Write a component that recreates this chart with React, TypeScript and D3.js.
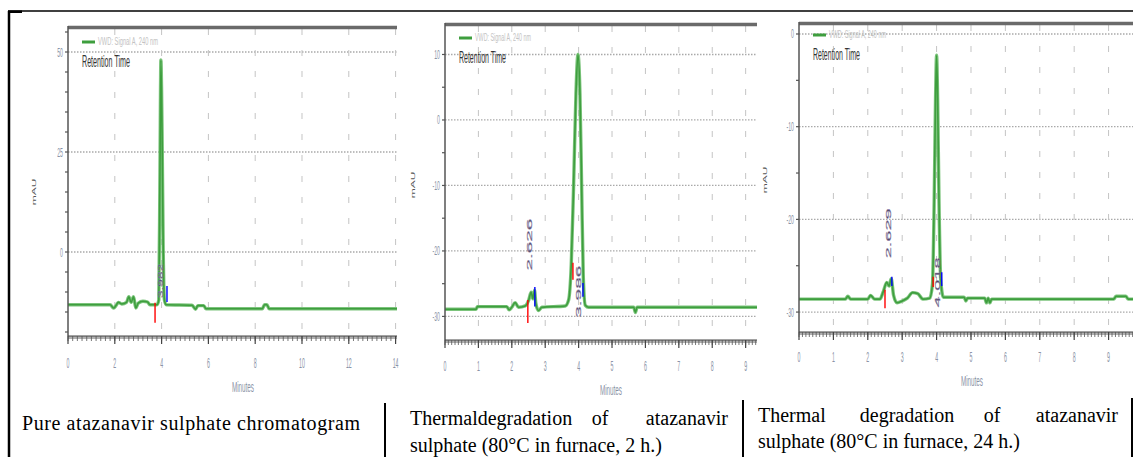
import React from "react";
import * as d3 from "d3";

// ---------- DATA ----------
// chromatogram traces: [minutes, mAU]
const pureTrace: [number, number][] = [
  [0, -13.2], [1.8, -13.2], [1.95, -14.0], [2.05, -13.4], [2.15, -12.6], [2.3, -13.0], [2.5, -12.6],
  [2.6, -11.2], [2.7, -12.6], [2.8, -11.2], [2.9, -14.0], [3.0, -12.8], [3.2, -12.3], [3.4, -12.5],
  [3.5, -13.2], [3.8, -13.2], [3.88, -12.0], [3.93, 20], [3.97, 48], [4.02, 30], [4.07, 0],
  [4.12, -12], [4.2, -13.2], [5.3, -13.3], [5.45, -14.3], [5.55, -13.4], [5.8, -13.4], [5.9, -14.2],
  [8.3, -14.2], [8.4, -13.2], [8.5, -13.2], [8.6, -14.2], [14.1, -14.2],
];
const thermal2hTrace: [number, number][] = [
  [0, -28.9], [0.93, -28.9], [0.97, -28.5], [1.85, -28.5], [1.92, -29.0], [2.0, -28.6], [2.1, -27.9],
  [2.2, -28.6], [2.4, -28.4], [2.5, -27.6], [2.58, -26.3], [2.63, -27.3], [2.68, -26.0], [2.72, -28.0],
  [2.8, -29.1], [2.9, -28.6], [3.6, -28.4], [3.7, -27.5], [3.78, -22], [3.85, -10], [3.92, 4],
  [3.98, 10], [4.04, 4], [4.09, -10], [4.14, -24], [4.2, -28.3], [4.3, -28.6], [5.65, -28.6],
  [5.7, -29.4], [5.75, -28.6], [9.4, -28.6],
];
const thermal24hTrace: [number, number][] = [
  [0, -28.6], [1.35, -28.6], [1.42, -28.3], [1.5, -28.6], [2.0, -28.6], [2.08, -28.2], [2.2, -28.6],
  [2.35, -28.6], [2.45, -27.8], [2.55, -26.8], [2.62, -27.2], [2.68, -26.4], [2.75, -28.2],
  [2.85, -29.0], [3.0, -28.8], [3.15, -28.5], [3.3, -27.9], [3.45, -28.0], [3.6, -28.6], [3.8, -28.5],
  [3.88, -27], [3.93, -18], [3.97, -7], [4.0, -2.3], [4.03, -7], [4.07, -18], [4.12, -26.5],
  [4.2, -28.4], [4.8, -28.4], [4.85, -28.8], [4.9, -28.5], [5.4, -28.5], [5.45, -29], [5.5, -28.5],
  [5.55, -29], [5.6, -28.6], [9.15, -28.6], [9.22, -28.3], [9.5, -28.3], [9.57, -28.6], [9.8, -28.6],
];

const pureXTicks = [0, 2, 4, 6, 8, 10, 12, 14];
const thermal2hXTicks = [0, 1, 2, 3, 4, 5, 6, 7, 8, 9];
const thermal24hXTicks = [0, 1, 2, 3, 4, 5, 6, 7, 8, 9];
const pureYTicks = [0, 25, 50];
const thermal2hYTicks = [-30, -20, -10, 0, 10];
const thermal24hYTicks = [-30, -20, -10, 0];

// peak retention-time labels: [minutes, mAU at label start, text, label length]
const purePeakLabels: [number, number, string, number][] = [[3.95, -11.5, "3.982", 34]];
const thermal2hPeakLabels: [number, number, string, number][] = [
  [2.52, -23.0, "2.626", 52],
  [3.98, -30.2, "3.986", 52],
];
const thermal24hPeakLabels: [number, number, string, number][] = [
  [2.6, -24.2, "2.629", 50],
  [4.0, -29.5, "4.018", 50],
];

// integration markers: [minutes, mAU from, mAU to, colour]
const pureMarkers: [number, number, number, string][] = [
  [3.72, -12.7, -17.7, "red"],
  [4.23, -8.5, -12.5, "blue"],
];
const thermal2hMarkers: [number, number, number, string][] = [
  [2.48, -27.5, -31.0, "red"],
  [2.69, -25.5, -28.5, "blue"],
  [3.83, -21.8, -24.4, "red"],
  [4.13, -24.9, -27.0, "blue"],
];
const thermal24hMarkers: [number, number, number, string][] = [
  [2.5, -27.6, -29.6, "red"],
  [2.7, -26.2, -27.2, "blue"],
  [3.9, -26.2, -27.3, "red"],
  [4.15, -25.7, -27.2, "blue"],
];

const legendLabel = "VWD: Signal A, 240 nm";
const legendTitle = "Retention Time";
const yTitle = "mAU";
const xTitle = "Minutes";

// ---------- LAYOUT ----------
type Panel = {
  trace: [number, number][];
  xTicks: number[];
  yTicks: number[];
  labels: [number, number, string, number][];
  markers: [number, number, number, string][];
  left: number; right: number; top: number; bottom: number;
  xDomain: [number, number]; yDomain: [number, number];
  xMinor: number; yMinor: number;
  legendY: number; legendW: number; titleW: number;
  yTitleX: number; yTitleY: number;
  xTitleX: number; xTitleY: number; xLabelDy: number;
};

const panels: Panel[] = [
  {
    trace: pureTrace, xTicks: pureXTicks, yTicks: pureYTicks, labels: purePeakLabels, markers: pureMarkers,
    left: 68, right: 397, top: 29, bottom: 336, xDomain: [0, 14.06], yDomain: [-21, 55.75],
    xMinor: 0.2, yMinor: 5, legendY: 42, legendW: 60, titleW: 48,
    yTitleX: 36, yTitleY: 192, xTitleX: 243, xTitleY: 392, xLabelDy: 32,
  },
  {
    trace: thermal2hTrace, xTicks: thermal2hXTicks, yTicks: thermal2hYTicks, labels: thermal2hPeakLabels, markers: thermal2hMarkers,
    left: 445, right: 757, top: 26, bottom: 340, xDomain: [0, 9.34], yDomain: [-33.6, 14.35],
    xMinor: 0.1, yMinor: 5, legendY: 38, legendW: 56, titleW: 47,
    yTitleX: 415, yTitleY: 185, xTitleX: 611, xTitleY: 395, xLabelDy: 31,
  },
  {
    trace: thermal24hTrace, xTicks: thermal24hXTicks, yTicks: thermal24hYTicks, labels: thermal24hPeakLabels, markers: thermal24hMarkers,
    left: 799, right: 1133, top: 25, bottom: 332, xDomain: [0, 9.71], yDomain: [-32.15, 0.97],
    xMinor: 0.1, yMinor: 5, legendY: 35, legendW: 57, titleW: 47,
    yTitleX: 767, yTitleY: 180, xTitleX: 972, xTitleY: 386, xLabelDy: 30,
  },
];

const GREEN = "#3e9e3e";
const LABEL = "#8a93a6";

function ChartPanel({ p }: { p: Panel }) {
  const x = d3.scaleLinear().domain(p.xDomain).range([p.left, p.right]);
  const y = d3.scaleLinear().domain(p.yDomain).range([p.bottom, p.top]);
  const line = d3.line<[number, number]>().x((d) => x(d[0])).y((d) => y(d[1])).curve(d3.curveMonotoneX);
  const xMinorTicks = d3.range(p.xDomain[0], p.xDomain[1] + 1e-9, p.xMinor);
  const yMinorTicks = d3.range(Math.ceil(p.yDomain[0] / p.yMinor) * p.yMinor, p.yDomain[1], p.yMinor);
  const clipId = `clip-${p.left}`;
  return (
    <g>
      <defs>
        <clipPath id={clipId}>
          <rect x={p.left} y={p.top} width={p.right - p.left} height={p.bottom - p.top} />
        </clipPath>
      </defs>
      {/* grid */}
      {p.yTicks.map((t) => (
        <line key={`gy${t}`} x1={p.left} x2={p.right} y1={y(t)} y2={y(t)} stroke="#a9a9a9" strokeWidth={1.3} strokeDasharray="1.5,1.5" />
      ))}
      {p.xTicks.filter((t) => t > 0).map((t) => (
        <line key={`gx${t}`} x1={x(t)} x2={x(t)} y1={p.top} y2={p.bottom} stroke="#c4c4c4" strokeWidth={1} strokeDasharray="6,15" />
      ))}
      {/* legend */}
      <line x1={p.left + 14} x2={p.left + 27} y1={p.legendY} y2={p.legendY} stroke={GREEN} strokeWidth={3} />
      <text x={p.left + 30} y={p.legendY + 3} fontSize={10} fill="#c2c2c2" fontFamily="Liberation Sans, Arial" textLength={p.legendW} lengthAdjust="spacingAndGlyphs">{legendLabel}</text>
      <text x={p.left + 14} y={p.legendY + 25} fontSize={17} fill="#333" fontFamily="Liberation Sans, Arial" textLength={p.titleW} lengthAdjust="spacingAndGlyphs">{legendTitle}</text>
      {/* trace */}
      <g clipPath={`url(#${clipId})`}>
        <path d={line(p.trace) || ""} fill="none" stroke="#7cc47c" strokeWidth={3.4} strokeLinejoin="round" />
        <path d={line(p.trace) || ""} fill="none" stroke={GREEN} strokeWidth={1.6} strokeLinejoin="round" />
      </g>
      {/* markers */}
      {p.markers.map((m, i) => (
        <line key={`m${i}`} x1={x(m[0])} x2={x(m[0])} y1={y(m[1])} y2={y(m[2])} stroke={m[3]} strokeWidth={1.4} />
      ))}
      {/* peak labels */}
      {p.labels.map((l, i) => (
        <text key={`l${i}`} transform={`translate(${x(l[0]) + 3},${y(l[1])}) scale(0.55,1) rotate(-90)`} fontSize={13} fill="#4e4862" stroke="#9b8fb8" strokeWidth={0.4} fontFamily="Liberation Sans, Arial" textLength={l[3]} lengthAdjust="spacingAndGlyphs">{l[2]}</text>
      ))}
      {/* top frame */}
      <line x1={p.left} x2={p.right} y1={p.top - 1.5} y2={p.top - 1.5} stroke="#6a6a6a" strokeWidth={3.5} />
      {/* left axis */}
      <line x1={p.left} x2={p.left} y1={p.top - 3} y2={p.bottom} stroke="#555" strokeWidth={1.5} />
      {yMinorTicks.map((t) => (
        <line key={`ym${t}`} x1={p.left - 3} x2={p.left} y1={y(t)} y2={y(t)} stroke="#555" strokeWidth={1.2} />
      ))}
      {p.yTicks.map((t) => (
        <text key={`yl${t}`} transform={`translate(${p.left - 5},${y(t) + 4.5}) scale(0.4,1)`} textAnchor="end" fontSize={13} fill={LABEL} fontFamily="Liberation Sans, Arial">{t}</text>
      ))}
      {/* bottom axis */}
      <rect x={p.left} y={p.bottom} width={p.right - p.left} height={3} fill="#b0b0b0" />
      <line x1={p.left} x2={p.right} y1={p.bottom} y2={p.bottom} stroke="#444" strokeWidth={1} />
      {xMinorTicks.map((t, i) => (
        <line key={`xm${i}`} x1={x(t)} x2={x(t)} y1={p.bottom} y2={p.bottom + 5} stroke="#555" strokeWidth={0.8} />
      ))}
      {p.xTicks.map((t) => (
        <line key={`xt${t}`} x1={x(t)} x2={x(t)} y1={p.bottom} y2={p.bottom + 8} stroke="#444" strokeWidth={1.2} />
      ))}
      {p.xTicks.map((t) => (
        <text key={`xl${t}`} transform={`translate(${x(t)},${p.bottom + p.xLabelDy}) scale(0.35,1)`} textAnchor="middle" fontSize={15} fill={LABEL} fontFamily="Liberation Sans, Arial">{t}</text>
      ))}
      {/* titles */}
      <text transform={`translate(${p.xTitleX},${p.xTitleY}) scale(0.45,1)`} textAnchor="middle" fontSize={14} fill={LABEL} fontFamily="Liberation Sans, Arial">{xTitle}</text>
      <text transform={`translate(${p.yTitleX},${p.yTitleY}) scale(0.5,1) rotate(-90)`} textAnchor="middle" fontSize={12} fill="#555" fontFamily="Liberation Sans, Arial">{yTitle}</text>
    </g>
  );
}

const captionFont = "Liberation Serif, Times New Roman, serif";

export default function App() {
  return (
    <svg width={1133} height={457} style={{ position: "absolute", left: 0, top: 0, background: "#fff" }}>
      <rect width={1133} height={457} fill="#fff" />
      {/* outer frame */}
      <line x1={8} x2={1133} y1={11} y2={11} stroke="#000" strokeWidth={1.3} />
      <rect x={8} y={10.5} width={14} height={2.5} fill="#000" />
      <line x1={9} x2={9} y1={11} y2={457} stroke="#000" strokeWidth={2.5} />
      <line x1={385} x2={385} y1={403} y2={457} stroke="#000" strokeWidth={2} />
      <line x1={743} x2={743} y1={400} y2={457} stroke="#000" strokeWidth={2} />
      <line x1={1132} x2={1132} y1={398} y2={457} stroke="#000" strokeWidth={2} />
      {panels.map((p, i) => <ChartPanel key={i} p={p} />)}
      {/* captions */}
      <g fontFamily={captionFont} fontSize={20} fill="#000">
        <text x={22} y={430} textLength={338} lengthAdjust="spacing">Pure atazanavir sulphate chromatogram</text>
        <text x={410} y={425}>Thermaldegradation</text>
        <text x={600} y={425} textAnchor="middle">of</text>
        <text x={728} y={425} textAnchor="end">atazanavir</text>
        <text x={410} y={452}>sulphate (80°C in furnace, 2 h.)</text>
        <text x={758} y={422}>Thermal</text>
        <text x={907} y={422} textAnchor="middle">degradation</text>
        <text x={992} y={422} textAnchor="middle">of</text>
        <text x={1118} y={422} textAnchor="end">atazanavir</text>
        <text x={758} y={448}>sulphate (80°C in furnace, 24 h.)</text>
      </g>
    </svg>
  );
}
